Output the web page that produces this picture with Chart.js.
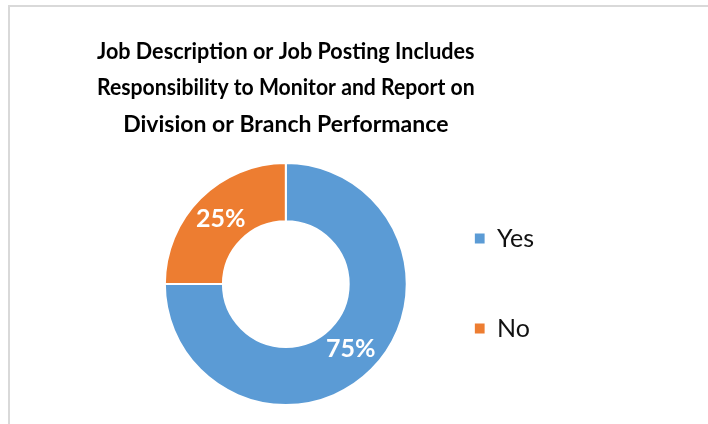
<!DOCTYPE html>
<html>
<head>
<meta charset="utf-8">
<script src="https://cdn.jsdelivr.net/npm/chart.js@4.4.0/dist/chart.umd.min.js"></script>
<style>
	body { margin: 0; background: #fff; overflow: hidden; }
	#frame { position: absolute; left: 8px; top: 5px; width: 760px; height: 480px; border-top: 2px solid #d9d9d9; border-left: 2px solid #d9d9d9; }
	#wrap { position: absolute; left: 0; top: 0; width: 708px; height: 424px; }
</style>
</head>
<body>
<div id="frame"></div>
<div id="wrap"><canvas id="myChart"></canvas></div>
<script>
var categories = ['Yes', 'No'];
var values = [75, 25];
var colors = ['#5b9bd5', '#ed7d31'];
var titleLines = [
	'Job Description or Job Posting Includes',
	'Responsibility to Monitor and Report on',
	'Division or Branch Performance'
];

// write the percentage inside each slice
var sliceLabels = {
	id: 'sliceLabels',
	afterDatasetsDraw: function(chart){
		var ctx = chart.ctx;
		var meta = chart.getDatasetMeta(0);
		var total = values.reduce(function(a, b){ return a + b; }, 0);
		ctx.save();
		ctx.font = 'bold 25px Lato';
		ctx.fillStyle = '#ffffff';
		ctx.textAlign = 'center';
		ctx.textBaseline = 'middle';
		meta.data.forEach(function(arc, i){
			var pos = arc.tooltipPosition();
			ctx.fillText(Math.round(values[i] / total * 100) + '%', pos.x, pos.y);
		});
		ctx.restore();
	}
};

var ctx = document.getElementById('myChart');
var myDoughnutChart = new Chart(ctx, {
	type: 'doughnut',
	data: {
		labels: categories,
		datasets: [{
			data: values,
			backgroundColor: colors,
			borderColor: '#ffffff',
			borderWidth: 2
		}]
	},
	options: {
		responsive: true,
		maintainAspectRatio: false,
		animation: false,
		cutout: '52%',
		layout: {
			padding: { top: 0, bottom: 18, left: 97, right: 164 }
		},
		plugins: {
			title: {
				display: true,
				fullSize: false,
				text: titleLines,
				color: '#000000',
				font: { family: 'Lato', size: 23, weight: 'bold', lineHeight: 1.596 },
				padding: { top: 33, bottom: 19 }
			},
			legend: {
				position: 'right',
				align: 'end',
				labels: {
					boxWidth: 10,
					boxHeight: 10,
					padding: 0,
					color: '#111111',
					font: { family: 'Lato', size: 25, lineHeight: 3.6 },
					generateLabels: function(chart){
						var items = Chart.overrides.doughnut.plugins.legend.labels.generateLabels(chart);
						items.forEach(function(item){
							item.text = [item.text];
							item.strokeStyle = item.fillStyle;
							item.lineWidth = 0;
						});
						return items;
					}
				}
			},
			tooltip: { enabled: false }
		}
	},
	plugins: [sliceLabels]
});
</script>
</body>
</html>
